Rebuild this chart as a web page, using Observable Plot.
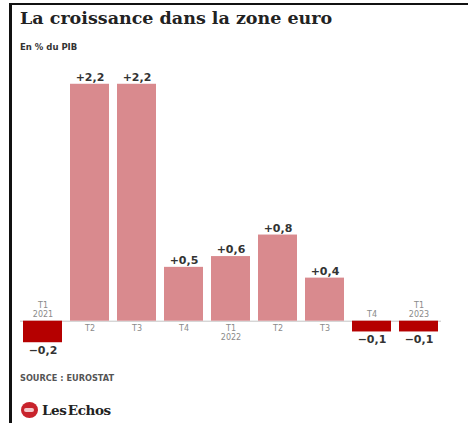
<!DOCTYPE html>
<html>
<head>
<meta charset="utf-8">
<script src="https://cdn.jsdelivr.net/npm/d3@7"></script>
<script src="https://cdn.jsdelivr.net/npm/@observablehq/plot@0.6"></script>
<style>
  html, body { margin: 0; padding: 0; background: #fff; }
  body { width: 468px; height: 423px; position: relative; overflow: hidden; font-family: "DejaVu Sans", sans-serif; }
  .frame { position: absolute; left: 9px; top: 3px; width: 459px; height: 420px; border-left: 3px solid #111; border-top: 2px solid #111; box-sizing: border-box; }
  .title { position: absolute; left: 20px; top: 7px; font-family: "DejaVu Serif", serif; font-weight: bold; font-size: 17.5px; line-height: 22px; color: #222; white-space: nowrap; }
  .subtitle { position: absolute; left: 20px; top: 42px; font-weight: bold; font-size: 8.5px; line-height: 10px; color: #333; }
  #chart { position: absolute; left: 0; top: 65px; }
  .source { position: absolute; left: 20px; top: 373px; font-weight: bold; font-size: 8.2px; line-height: 10px; color: #555; }
  .logo { position: absolute; left: 21px; top: 401px; display: flex; align-items: center; }
  .logo .icon { width: 17px; height: 16px; border-radius: 50%; background: #c8232c; position: relative; }
  .logo .icon::after { content: ""; position: absolute; left: 3px; top: 6px; width: 10px; height: 4px; border-radius: 2px; background: #f4c9cb; }
  .logo .name { margin-left: 4px; font-family: "DejaVu Serif", serif; font-weight: bold; font-size: 13.5px; color: #222; line-height: 18px; letter-spacing: -0.4px; word-spacing: -3px; }
</style>
</head>
<body>
<div class="frame"></div>
<div class="title">La croissance dans la zone euro</div>
<div class="subtitle">En % du PIB</div>
<div id="chart"></div>
<div class="source">SOURCE : EUROSTAT</div>
<div class="logo"><span class="icon"></span><span class="name">Les Echos</span></div>
<script>
const quarters = ["T1", "T2", "T3", "T4", "T1", "T2", "T3", "T4", "T1"];
const years = ["2021", "", "", "", "2022", "", "", "", "2023"];
const values = [-0.2, 2.2, 2.2, 0.5, 0.6, 0.8, 0.4, -0.1, -0.1];

const data = values.map((v, i) => ({i, v, q: quarters[i], yr: years[i]}));
const fmt = v => (v < 0 ? "\u2212" : "+") + Math.abs(v).toFixed(1).replace(".", ",");
const pos = data.filter(d => d.v >= 0);
const neg = data.filter(d => d.v < 0);

const chart = Plot.plot({
  width: 468,
  height: 300,
  marginLeft: 20,
  marginRight: 27,
  marginTop: 8,
  marginBottom: 12,
  x: {domain: d3.range(values.length), paddingInner: 0.18, paddingOuter: 0, axis: null},
  y: {domain: [-0.3, 2.3], axis: null},
  style: {fontFamily: "DejaVu Sans, sans-serif", background: "transparent", overflow: "visible"},
  marks: [
    Plot.ruleY([0], {stroke: "#c4c4c4", strokeWidth: 1}),
    Plot.barY(pos, {x: "i", y: "v", fill: "#d98a8e"}),
    Plot.barY(neg, {x: "i", y: "v", fill: "#b50000"}),
    // value labels
    Plot.text(pos, {x: "i", y: "v", text: d => fmt(d.v), dy: -7, fontWeight: "bold", fontSize: 11, fill: "#333"}),
    Plot.text(neg, {x: "i", y: "v", text: d => fmt(d.v), dy: 8, fontWeight: "bold", fontSize: 11, fill: "#333"}),
    // category labels under positive bars
    Plot.text(pos, {x: "i", y: 0, text: "q", dy: 7.5, fontSize: 8, fill: "#8a8a8a"}),
    Plot.text(pos.filter(d => d.yr), {x: "i", y: 0, text: "yr", dy: 16.5, fontSize: 8, fill: "#8a8a8a"}),
    // category labels above negative bars
    Plot.text(neg.filter(d => d.yr), {x: "i", y: 0, text: "q", dy: -16, fontSize: 8, fill: "#8a8a8a"}),
    Plot.text(neg.filter(d => d.yr), {x: "i", y: 0, text: "yr", dy: -6.5, fontSize: 8, fill: "#8a8a8a"}),
    Plot.text(neg.filter(d => !d.yr), {x: "i", y: 0, text: "q", dy: -6.5, fontSize: 8, fill: "#8a8a8a"})
  ]
});
document.getElementById("chart").appendChild(chart);
</script>
</body>
</html>
